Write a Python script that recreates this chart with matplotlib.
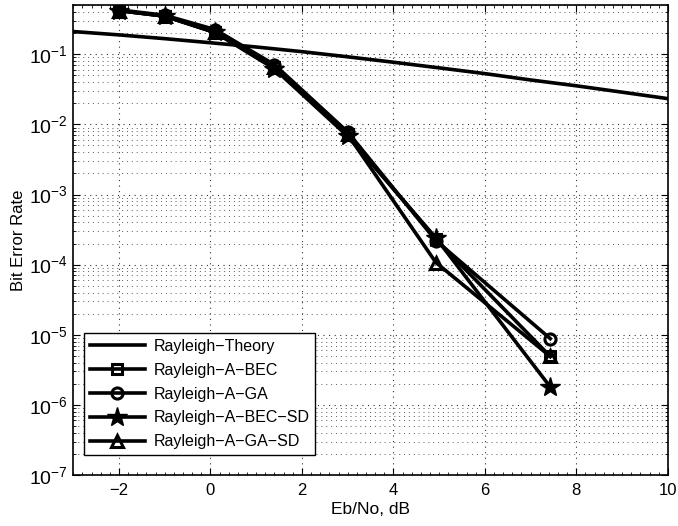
import numpy as np
import matplotlib.pyplot as plt
from matplotlib.ticker import FixedLocator, LogLocator, MultipleLocator, NullFormatter, FuncFormatter

plt.rcParams['font.family'] = ['Liberation Sans', 'DejaVu Sans']
plt.rcParams['mathtext.fontset'] = 'custom'
plt.rcParams['mathtext.rm'] = 'Liberation Sans'
plt.rcParams['mathtext.default'] = 'regular'

# --- Data ---
ebno_theory = [-3, -2, -1, 0, 1, 2, 3, 4, 5, 6, 7, 8, 9, 10]
ber_theory = [0.211, 0.189, 0.167, 0.146, 0.127, 0.109, 0.092,
              0.077, 0.064, 0.053, 0.043, 0.0355, 0.0288, 0.0233]

ebno_sim = [-2, -1, 0.1, 1.4, 3.0, 4.93, 7.43]
ber_bec = [0.42, 0.35, 0.205, 0.066, 0.0072, 2.3e-4, 4.9e-6]
ber_ga = [0.43, 0.36, 0.225, 0.071, 0.0078, 2.2e-4, 8.8e-6]
ber_bec_sd = [0.42, 0.35, 0.205, 0.062, 0.0068, 2.4e-4, 1.8e-6]
ber_ga_sd = [0.42, 0.35, 0.205, 0.066, 0.0072, 1.07e-4, 4.9e-6]

y_decades = [1e-7, 1e-6, 1e-5, 1e-4, 1e-3, 1e-2, 1e-1]

labels = ['Rayleigh\u2212Theory', 'Rayleigh\u2212A\u2212BEC', 'Rayleigh\u2212A\u2212GA',
          'Rayleigh\u2212A\u2212BEC\u2212SD', 'Rayleigh\u2212A\u2212GA\u2212SD']

# --- Plot ---
fig = plt.figure(figsize=(6.78, 5.26), dpi=100)
ax = fig.add_axes([0.108, 0.097, 0.877, 0.893])

lw = 2.6
ax.semilogy(ebno_theory, ber_theory, color='k', lw=lw, label=labels[0])
ax.semilogy(ebno_sim, ber_bec, color='k', lw=lw, marker='s', ms=7,
            mfc='none', mew=2.2, label=labels[1])
ax.semilogy(ebno_sim, ber_ga, color='k', lw=lw, marker='o', ms=8,
            mfc='none', mew=2.2, label=labels[2])
ax.semilogy(ebno_sim, ber_bec_sd, color='k', lw=lw, marker='*', ms=15,
            mfc='k', label=labels[3])
ax.semilogy(ebno_sim, ber_ga_sd, color='k', lw=lw, marker='^', ms=9,
            mfc='none', mew=2.2, label=labels[4])

ax.set_xlim(-3, 10)
ax.set_ylim(1e-7, 0.5)
ax.xaxis.set_major_locator(MultipleLocator(2))
ax.xaxis.set_minor_locator(MultipleLocator(0.2))
ax.xaxis.set_major_formatter(FuncFormatter(lambda v, p: f'{v:g}'.replace('-', '\u2212')))
ax.yaxis.set_major_locator(FixedLocator(y_decades))
ax.yaxis.set_minor_locator(LogLocator(base=10, subs=np.arange(2, 10), numticks=20))
ax.yaxis.set_minor_formatter(NullFormatter())
ax.yaxis.set_major_formatter(FuncFormatter(lambda v, p: r'$10^{%d}$' % round(np.log10(v))))

dots = (0, (1, 4))
ax.grid(True, which='major', axis='both', ls=dots, color='0.2', lw=0.8)
ax.grid(True, which='minor', axis='y', ls=dots, color='0.35', lw=0.7)

ax.tick_params(which='both', direction='in', top=True, right=True)
ax.tick_params(which='major', length=5, pad=6)
ax.tick_params(which='minor', length=2.5)
ax.tick_params(axis='x', labelsize=12)
ax.tick_params(axis='y', labelsize=14, pad=4)
for s in ax.spines.values():
    s.set_linewidth(1.2)

ax.set_xlabel('Eb/No, dB', fontsize=12.5, labelpad=3)
ax.set_ylabel('Bit Error Rate', fontsize=12, labelpad=2)

leg = ax.legend(loc='lower left', bbox_to_anchor=(0.018, 0.043), fontsize=11.5,
                handlelength=3.5, fancybox=False, framealpha=1,
                edgecolor='k', borderaxespad=0, labelspacing=0.55,
                borderpad=0.35, handletextpad=0.5)
leg.get_frame().set_linewidth(1.0)

fig.savefig('out.png', dpi=100)
